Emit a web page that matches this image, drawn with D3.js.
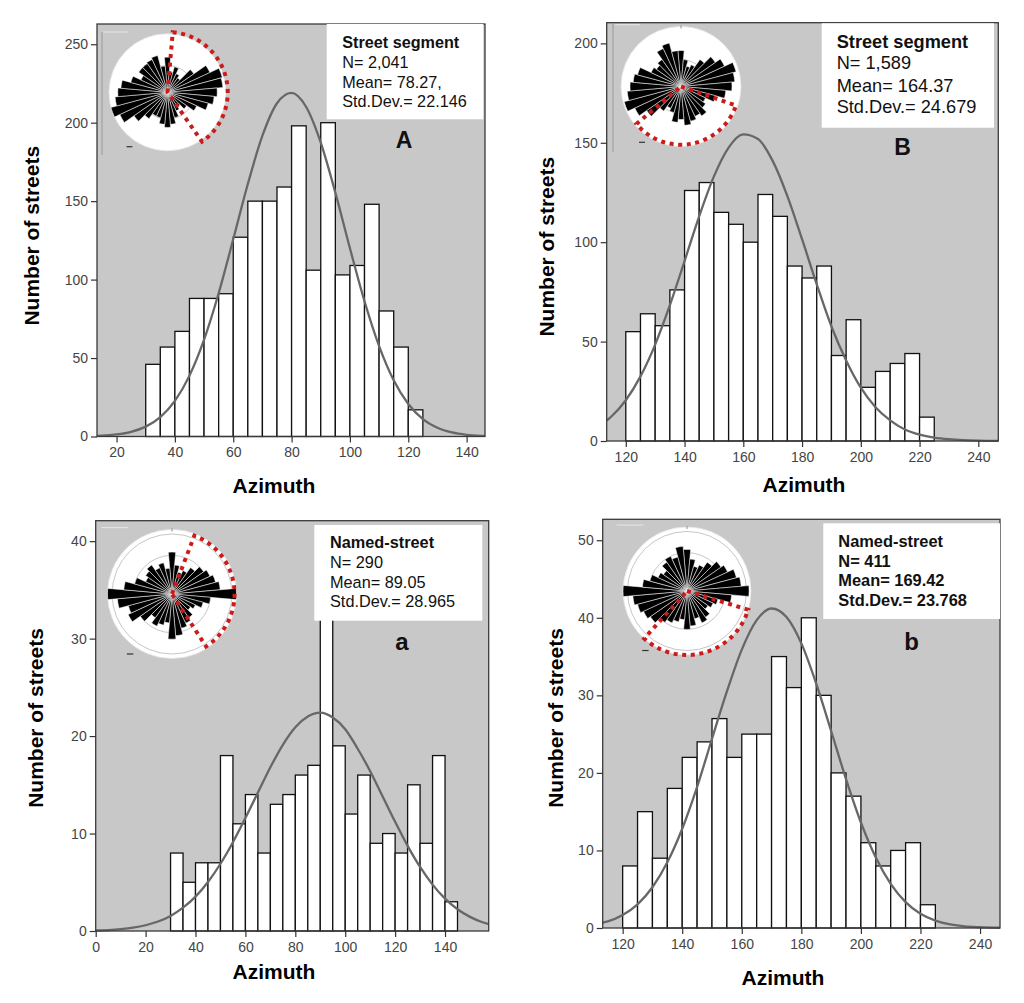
<!DOCTYPE html>
<html>
<head>
<meta charset="utf-8">
<script src="https://cdn.jsdelivr.net/npm/d3@7"></script>
<style>
body { margin: 0; background: #fff; }
svg { display: block; }
text { font-family: "Liberation Sans", Arial, sans-serif; }
</style>
</head>
<body>
<div id="chart"></div>
<script>
// ---- data ----
const binWidth = 5;

// A: street segments, first orientation group
const binsA = [30, 35, 40, 45, 50, 55, 60, 65, 70, 75, 80, 85, 90, 95, 100, 105, 110, 115, 120];
const countsA = [46, 57, 67, 88, 88, 91, 127, 150, 150, 159, 198, 106, 200, 103, 109, 148, 80, 57, 17];
const curveA = [[13.3, 0.4], [15, 0.5], [20, 1.3], [25, 3.0], [30, 6.3], [35, 12.4], [40, 22.7], [45, 38.8],
    [50, 61.7], [55, 91.3], [60, 125.7], [65, 160.9], [70, 191.7], [75, 212.4], [80, 219], [85, 210],
    [90, 187.3], [95, 155.4], [100, 120], [105, 86.2], [110, 57.6], [115, 35.8], [120, 20.7], [125, 11.1],
    [130, 5.6], [135, 2.6], [140, 1.1], [145, 0.45], [146.3, 0.35]];
const xTicksA = [20, 40, 60, 80, 100, 120, 140];
const yTicksA = [0, 50, 100, 150, 200, 250];
const legendA = ["Street segment", "N= 2,041", "Mean= 78.27,", "Std.Dev.= 22.146"];

// B: street segments, second orientation group
const binsB = [120, 125, 130, 135, 140, 145, 150, 155, 160, 165, 170, 175, 180, 185, 190, 195, 200, 205, 210, 215, 220];
const countsB = [55, 64, 58, 76, 126, 130, 115, 109, 100, 124, 113, 88, 82, 88, 43, 61, 27, 35, 39, 44, 12];
const curveB = [[113.5, 10.3], [115, 12.2], [120, 20.5], [125, 32.5], [130, 48.5], [135, 68.3], [140, 90.5],
    [145, 113.1], [150, 133.1], [155, 147.6], [160, 154.2], [165, 151.9], [170, 140.9], [175, 123.2],
    [180, 101.5], [185, 78.8], [190, 57.6], [195, 40.5], [200, 26.8], [205, 17], [210, 10.4], [215, 5.8],
    [220, 3.2], [225, 1.7], [230, 0.9], [235, 0.45], [240, 0.2], [246.8, 0.05]];
const xTicksB = [120, 140, 160, 180, 200, 220, 240];
const yTicksB = [0, 50, 100, 150, 200];
const legendB = ["Street segment", "N= 1,589", "Mean= 164.37", "Std.Dev.= 24.679"];

// a: named streets, first group
const binsLa = [30, 35, 40, 45, 50, 55, 60, 65, 70, 75, 80, 85, 90, 95, 100, 105, 110, 115, 120, 125, 130, 135, 140];
const countsLa = [8, 5, 7, 7, 18, 11, 14, 8, 13, 14, 16, 17, 33, 19, 12, 16, 9, 10, 8, 15, 9, 18, 3];
const curveLa = [[0, 0.05], [5, 0.1], [10, 0.19], [15, 0.34], [20, 0.59], [25, 0.97], [30, 1.55], [35, 2.39],
    [40, 3.53], [45, 5.03], [50, 6.9], [55, 9.11], [60, 11.6], [65, 14.2], [70, 16.8], [75, 19.1],
    [80, 20.9], [85, 22.0], [90, 22.4], [95, 21.9], [100, 20.7], [105, 18.7], [110, 16.4], [115, 13.8],
    [120, 11.2], [125, 8.74], [130, 6.57], [135, 4.76], [140, 3.32], [145, 2.23], [150, 1.45], [155, 0.9], [157.5, 0.7]];
const xTicksLa = [0, 20, 40, 60, 80, 100, 120, 140];
const yTicksLa = [0, 10, 20, 30, 40];
const legendLa = ["Named-street", "N= 290", "Mean= 89.05", "Std.Dev.= 28.965"];

// b: named streets, second group
const binsLb = [120, 125, 130, 135, 140, 145, 150, 155, 160, 165, 170, 175, 180, 185, 190, 195, 200, 205, 210, 215, 220];
const countsLb = [8, 15, 9, 18, 22, 24, 27, 22, 25, 25, 35, 31, 40, 30, 20, 17, 11, 8, 10, 11, 3];
const curveLb = [[113.3, 0.7], [115, 0.85], [120, 1.67], [125, 3.05], [130, 5.25], [135, 8.47], [140, 12.8],
    [145, 18.2], [150, 24.4], [155, 30.5], [160, 35.9], [165, 39.7], [170, 41.2], [175, 40.1], [180, 36.7],
    [185, 31.5], [190, 25.4], [195, 19.2], [200, 13.6], [205, 9.09], [210, 5.69], [215, 3.34], [220, 1.84],
    [225, 0.96], [230, 0.46], [235, 0.2], [240, 0.1], [246.7, 0.03]];
const xTicksLb = [120, 140, 160, 180, 200, 220, 240];
const yTicksLb = [0, 10, 20, 30, 40, 50];
const legendLb = ["Named-street", "N= 411", "Mean= 169.42", "Std.Dev.= 23.768"];

// rose diagram petals: relative length per 10 degree sector, starting at north, clockwise
const petalsA = [0.6, 0.35, 0.45, 0.35, 0.3, 0.55, 0.8, 0.97, 0.95, 0.85, 0.8, 0.72, 0.55, 0.4, 0.3, 0.35, 0.45, 0.55,
    0.6, 0.55, 0.45, 0.45, 0.55, 0.7, 0.9, 1.0, 0.9, 0.85, 0.8, 0.65, 0.5, 0.6, 0.6, 0.62, 0.65, 0.45];
const petalsB = [0.6, 0.45, 0.35, 0.4, 0.55, 0.7, 0.8, 0.95, 0.9, 0.85, 0.75, 0.6, 0.45, 0.5, 0.6, 0.55, 0.6, 0.65,
    0.55, 0.6, 0.45, 0.4, 0.5, 0.7, 0.85, 0.98, 0.9, 0.85, 0.8, 0.75, 0.55, 0.5, 0.55, 0.7, 0.75, 0.6];
const petalsLa = [0.65, 0.45, 0.35, 0.4, 0.5, 0.6, 0.65, 0.7, 0.75, 1.0, 0.6, 0.5, 0.4, 0.35, 0.45, 0.5, 0.55, 0.65,
    0.7, 0.45, 0.5, 0.55, 0.45, 0.6, 0.75, 0.7, 0.85, 1.0, 0.75, 0.6, 0.45, 0.5, 0.55, 0.45, 0.5, 0.4];
const petalsLb = [0.65, 0.5, 0.4, 0.45, 0.55, 0.65, 0.7, 0.8, 0.85, 0.97, 0.7, 0.5, 0.45, 0.4, 0.5, 0.55, 0.45, 0.55,
    0.6, 0.45, 0.5, 0.55, 0.6, 0.7, 0.75, 0.8, 0.85, 1.0, 0.7, 0.6, 0.5, 0.45, 0.55, 0.6, 0.55, 0.7];

// dotted sector shown on each rose (degrees, clockwise from north)
const sectorA = [5, 145];
const sectorB = [109, 230];
const sectorLa = [21, 147];
const sectorLb = [107, 222];

// ---- layout ----
const panels = [
    {bins: binsA, counts: countsA, curve: curveA, xTicks: xTicksA, yTicks: yTicksA, legend: legendA,
        petals: petalsA, sector: sectorA, letter: "A",
        box: {left: 97, top: 24, right: 485, bottom: 436.5}, xDomain: [13.3, 146.3], yMax: 262.9,
        legendBox: {x: 326.7, y: 24, w: 156.6, h: 95.3}, legendX: 342.3, legendY: [48.3, 68.3, 87.7, 107.3],
        legendSize: 16.2, allBold: false, letterPos: [404, 148.3], letterSize: 23,
        yLabel: [39, 235.7], xLabel: [274, 492.7],
        rose: {cx: 167.5, cy: 92.3, r: 58.5, rings: [0.46], sectorR: 1.03, tickTop: false},
        vline: [102, 32, 155]},
    {bins: binsB, counts: countsB, curve: curveB, xTicks: xTicksB, yTicks: yTicksB, legend: legendB,
        petals: petalsB, sector: sectorB, letter: "B",
        box: {left: 606.7, top: 22.7, right: 998.3, bottom: 441}, xDomain: [113.5, 246.8], yMax: 210.4,
        legendBox: {x: 821.7, y: 23.3, w: 172.3, h: 104.4}, legendX: 836.7, legendY: [48.3, 69.3, 91.7, 113.3],
        legendSize: 18.2, allBold: false, letterPos: [902.5, 155], letterSize: 23,
        yLabel: [553.5, 246.7], xLabel: [804, 491.7],
        rose: {cx: 681, cy: 86.5, r: 60, rings: [0.45], sectorR: 0.97, tickTop: true},
        vline: [613, 23, 152]},
    {bins: binsLa, counts: countsLa, curve: curveLa, xTicks: xTicksLa, yTicks: yTicksLa, legend: legendLa,
        petals: petalsLa, sector: sectorLa, letter: "a",
        box: {left: 95.7, top: 520.7, right: 488.7, bottom: 931}, xDomain: [0, 157.5], yMax: 42.1,
        legendBox: {x: 314.3, y: 525, w: 168, h: 95.7}, legendX: 330, legendY: [548.3, 568.3, 587.7, 607.3],
        legendSize: 16.3, allBold: false, letterPos: [402, 650], letterSize: 24,
        yLabel: [43, 718], xLabel: [274, 979],
        rose: {cx: 172, cy: 594, r: 64.5, rings: [0.93, 0.6, 0.3], sectorR: 0.97, tickTop: true},
        vline: null},
    {bins: binsLb, counts: countsLb, curve: curveLb, xTicks: xTicksLb, yTicks: yTicksLb, legend: legendLb,
        petals: petalsLb, sector: sectorLb, letter: "b",
        box: {left: 602.7, top: 519.3, right: 1000, bottom: 928}, xDomain: [113.3, 246.7], yMax: 52.7,
        legendBox: {x: 823.3, y: 523.3, w: 176.7, h: 95.7}, legendX: 838.3, legendY: [546.7, 566.7, 586, 606],
        legendSize: 16.4, allBold: true, letterPos: [911.5, 650], letterSize: 24,
        yLabel: [562.5, 718], xLabel: [783, 985],
        rose: {cx: 687, cy: 591, r: 64, rings: [0.93, 0.6, 0.3], sectorR: 1.0, tickTop: true},
        vline: null}
];

const svg = d3.select("#chart")
    .append("svg")
    .attr("width", 1024)
    .attr("height", 1003);

const toRad = d => d * Math.PI / 180;

function drawPanel(p) {
    const b = p.box;
    const x = d3.scaleLinear().domain(p.xDomain).range([b.left, b.right]);
    const y = d3.scaleLinear().domain([0, p.yMax]).range([b.bottom, b.top]);
    const g = svg.append("g");

    // plot background
    g.append("rect")
        .attr("x", b.left)
        .attr("y", b.top)
        .attr("width", b.right - b.left)
        .attr("height", b.bottom - b.top)
        .attr("fill", "#c8c8c8");

    // histogram bars
    g.selectAll(".bar")
        .data(p.counts)
        .enter()
        .append("rect")
        .attr("class", "bar")
        .attr("x", (d, i) => x(p.bins[i]))
        .attr("y", d => y(d))
        .attr("width", (d, i) => x(p.bins[i] + binWidth) - x(p.bins[i]))
        .attr("height", d => y(0) - y(d))
        .attr("fill", "#fff")
        .attr("stroke", "#111")
        .attr("stroke-width", 1.3);

    // fitted normal curve
    const line = d3.line()
        .x(d => x(d[0]))
        .y(d => y(d[1]))
        .curve(d3.curveMonotoneX);

    g.append("path")
        .datum(p.curve)
        .attr("d", line)
        .attr("fill", "none")
        .attr("stroke", "#676767")
        .attr("stroke-width", 2.3);

    // frame
    g.append("rect")
        .attr("x", b.left)
        .attr("y", b.top)
        .attr("width", b.right - b.left)
        .attr("height", b.bottom - b.top)
        .attr("fill", "none")
        .attr("stroke", "#3a3a3a")
        .attr("stroke-width", 1.3);

    // axes
    const yAxis = g.append("g")
        .attr("transform", `translate(${b.left},0)`)
        .call(d3.axisLeft(y).tickValues(p.yTicks).tickSize(6).tickPadding(3));
    const xAxis = g.append("g")
        .attr("transform", `translate(0,${b.bottom})`)
        .call(d3.axisBottom(x).tickValues(p.xTicks).tickSize(6).tickPadding(5));

    [yAxis, xAxis].forEach(ax => {
        ax.select(".domain").remove();
        ax.selectAll("line").attr("stroke", "#333").attr("stroke-width", 1.2);
        ax.selectAll("text")
            .attr("fill", "#444")
            .style("font-size", "14px")
            .style("font-family", "'Liberation Sans', Arial, sans-serif");
    });

    // rose diagram inset
    const ro = p.rose;
    const rose = g.append("g").attr("transform", `translate(${ro.cx},${ro.cy})`);

    if (p.vline) {
        g.append("line")
            .attr("x1", p.vline[0]).attr("x2", p.vline[0])
            .attr("y1", p.vline[1]).attr("y2", p.vline[2])
            .attr("stroke", "#999")
            .attr("stroke-width", 1);
    }

    rose.append("line")
        .attr("x1", -ro.r * 1.1).attr("x2", -ro.r * 0.68)
        .attr("y1", -ro.r * 1.03).attr("y2", -ro.r * 1.03)
        .attr("stroke", "#e2e2e2")
        .attr("stroke-width", 1.2);

    rose.append("circle")
        .attr("r", ro.r)
        .attr("fill", "#fff")
        .attr("stroke", "#e6e6e6")
        .attr("stroke-width", 0.8);

    rose.selectAll(".ring")
        .data(ro.rings)
        .enter()
        .append("circle")
        .attr("class", "ring")
        .attr("r", d => d * ro.r)
        .attr("fill", "none")
        .attr("stroke", "#b8b8b8")
        .attr("stroke-width", 0.8);

    const petalArc = d3.arc()
        .innerRadius(0)
        .outerRadius(d => d * ro.r)
        .startAngle((d, i) => toRad(i * 10 - 5))
        .endAngle((d, i) => toRad(i * 10 + 5));

    rose.selectAll(".petal")
        .data(p.petals)
        .enter()
        .append("path")
        .attr("class", "petal")
        .attr("d", (d, i) => petalArc(d, i))
        .attr("fill", "#000")
        .attr("stroke", "#fff")
        .attr("stroke-width", 0.5);

    if (ro.tickTop) {
        rose.append("line")
            .attr("x1", 0).attr("x2", 0)
            .attr("y1", -ro.r - 1).attr("y2", -ro.r + 2)
            .attr("stroke", "#777")
            .attr("stroke-width", 0.8);
    }

    rose.append("line")
        .attr("x1", -ro.r * 0.7).attr("x2", -ro.r * 0.6)
        .attr("y1", ro.r * 0.93).attr("y2", ro.r * 0.93)
        .attr("stroke", "#333")
        .attr("stroke-width", 1.2);

    const R = ro.sectorR * ro.r;
    const a0 = toRad(p.sector[0]), a1 = toRad(p.sector[1]);
    const sectorPath = d3.path();
    sectorPath.moveTo(0, 0);
    sectorPath.lineTo(R * Math.sin(a0), -R * Math.cos(a0));
    sectorPath.arc(0, 0, R, a0 - Math.PI / 2, a1 - Math.PI / 2, false);
    sectorPath.closePath();

    rose.append("path")
        .attr("d", sectorPath.toString())
        .attr("fill", "none")
        .attr("stroke", "#cc1b1b")
        .attr("stroke-width", 4)
        .attr("stroke-dasharray", "4 4.6");

    // legend box
    const lb = p.legendBox;
    g.append("rect")
        .attr("x", lb.x)
        .attr("y", lb.y)
        .attr("width", lb.w)
        .attr("height", lb.h)
        .attr("fill", "#fff");

    g.selectAll(".legend-line")
        .data(p.legend)
        .enter()
        .append("text")
        .attr("class", "legend-line")
        .attr("x", p.legendX)
        .attr("y", (d, i) => p.legendY[i])
        .attr("fill", "#111")
        .style("font-size", p.legendSize + "px")
        .style("font-weight", (d, i) => (i === 0 || p.allBold) ? "bold" : "normal")
        .text(d => d);

    // panel letter
    g.append("text")
        .attr("x", p.letterPos[0])
        .attr("y", p.letterPos[1])
        .attr("text-anchor", "middle")
        .attr("fill", "#111")
        .style("font-size", p.letterSize + "px")
        .style("font-weight", "bold")
        .text(p.letter);

    // axis titles
    g.append("text")
        .attr("transform", `translate(${p.yLabel[0]},${p.yLabel[1]}) rotate(-90)`)
        .attr("text-anchor", "middle")
        .attr("fill", "#000")
        .style("font-size", "21px")
        .style("font-weight", "bold")
        .text("Number of streets");

    g.append("text")
        .attr("x", p.xLabel[0])
        .attr("y", p.xLabel[1])
        .attr("text-anchor", "middle")
        .attr("fill", "#000")
        .style("font-size", "21px")
        .style("font-weight", "bold")
        .text("Azimuth");
}

panels.forEach(drawPanel);
</script>
</body>
</html>
